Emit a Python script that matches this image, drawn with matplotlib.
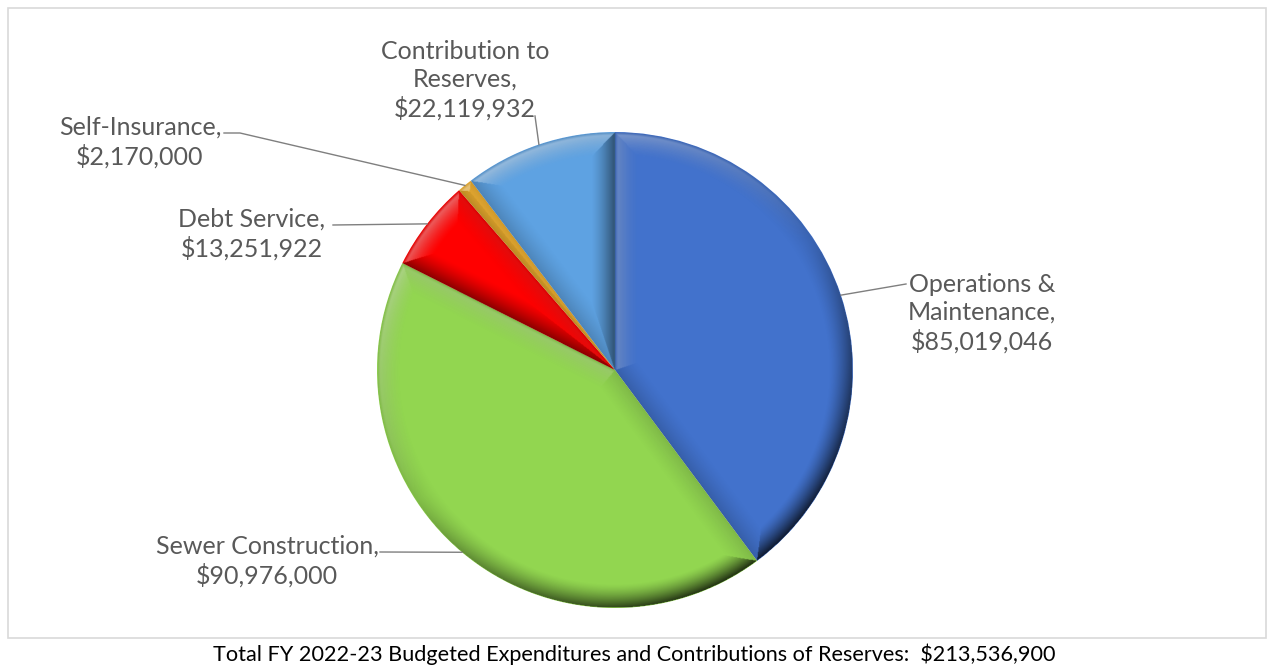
import numpy as np
import matplotlib
matplotlib.use("Agg")
import matplotlib.pyplot as plt
from matplotlib.patches import Rectangle, Circle

plt.rcParams['font.family'] = ['Lato', 'DejaVu Sans']

# Budget categories, clockwise from 12 o'clock
categories = ["Operations &\nMaintenance", "Sewer Construction", "Debt Service",
              "Self-Insurance", "Contribution to\nReserves"]
values = [85019046, 90976000, 13251922, 2170000, 22119932]
colors = ["#4272CC", "#92D650", "#FF0000", "#F2B230", "#5EA2E2"]
total_label = "Total FY 2022-23 Budgeted Expenditures and Contributions of Reserves:  $213,536,900"

W, H = 1268, 669
fig = plt.figure(figsize=(W / 100, H / 100), dpi=100)
ax = fig.add_axes([0, 0, 1, 1])

cx, cy, R = 615, H - 370, 238

wedges, _ = ax.pie(values, colors=colors, startangle=90, counterclock=False,
                   center=(cx, cy), radius=R,
                   wedgeprops=dict(edgecolor="none", linewidth=0))
ax.set_xlim(0, W)
ax.set_ylim(0, H)
ax.set_aspect('equal')
ax.axis('off')

# --- bevel shading: each slice gets a rim along its arc and radial edges,
# lit from the upper left
n = 720
xs = np.linspace(cx - R, cx + R, n)
ys = np.linspace(cy - R, cy + R, n)
X, Y = np.meshgrid(xs, ys)
DX, DY = X - cx, Y - cy
r = np.hypot(DX, DY)
a = np.degrees(np.arctan2(DY, DX)) % 360
bevel = 24.0
L = np.array([-0.55, 0.83])
L = L / np.hypot(*L)

best_d = np.full(X.shape, np.inf)
nx = np.zeros(X.shape)
ny = np.zeros(X.shape)
for w in wedges:
    t1, t2 = w.theta1, w.theta2
    ext = (t2 - t1) % 360 or 360
    d1 = (a - t1) % 360
    inside = (d1 <= ext) & (r <= R)
    d2 = ext - d1
    d_arc = R - r
    e1 = np.where(d1 < 90, r * np.sin(np.radians(d1)), r)
    e2 = np.where(d2 < 90, r * np.sin(np.radians(d2)), r)
    cand = np.stack([d_arc, e1, e2])
    k = np.argmin(cand, axis=0)
    dmin = np.min(cand, axis=0)
    t1r, t2r = np.radians(t1), np.radians(t2)
    ar = np.radians(a)
    nxx = np.choose(k, [np.cos(ar), np.full_like(ar, np.sin(t1r)), np.full_like(ar, -np.sin(t2r))])
    nyy = np.choose(k, [np.sin(ar), np.full_like(ar, -np.cos(t1r)), np.full_like(ar, np.cos(t2r))])
    best_d = np.where(inside, dmin, best_d)
    nx = np.where(inside, nxx, nx)
    ny = np.where(inside, nyy, ny)

f = np.clip(1 - best_d / bevel, 0, 1) ** 1.4
s = nx * L[0] + ny * L[1]
dark_a = np.clip(f * (0.65 * np.clip(-s, 0, 1) + 0.14), 0, 0.85)
light_a = np.clip(f * 0.45 * np.clip(s, 0, 1) * np.clip(best_d / 3, 0, 1), 0, 0.6)

dark = np.zeros(X.shape + (4,))
dark[..., 3] = dark_a
light = np.ones(X.shape + (4,))
light[..., 3] = light_a
for layer in (dark, light):
    im = ax.imshow(layer, extent=(cx - R, cx + R, cy - R, cy + R), origin='lower',
                   zorder=3, interpolation='bilinear')
    im.set_clip_path(Circle((cx, cy), R, transform=ax.transData))
ax.set_xlim(0, W)
ax.set_ylim(0, H)

# data labels with leader lines to the middle of each slice's rim
label_pos = {
    0: (982, 313),
    1: (267, 561),
    2: (252, 234),
    3: (140, 142),
    4: (465, 80),
}
line_start = {
    0: [(906, 284)],
    1: [(380, 552)],
    2: [(333, 225)],
    3: [(224, 133), (240, 133)],
    4: [(535, 116)],
}
text_color = "#595959"
for i, w in enumerate(wedges):
    mid = np.deg2rad((w.theta1 + w.theta2) / 2)
    ex, ey = cx + R * np.cos(mid), cy + R * np.sin(mid)
    pts = [(x, H - y) for x, y in line_start[i]] + [(ex, ey)]
    ax.plot([p[0] for p in pts], [p[1] for p in pts], color="#7f7f7f", lw=1, zorder=2)
    lx, ly = label_pos[i]
    txt = f"{categories[i]},\n${values[i]:,.0f}"
    ax.text(lx, H - ly, txt, ha='center', va='center', fontsize=18,
            color=text_color, linespacing=1.25, zorder=4)

# chart frame and total caption
ax.add_patch(Rectangle((8, H - 638), 1258, 630, fill=False, edgecolor="#d9d9d9", lw=1.2))
ax.text(634, H - 654, total_label, ha='center', va='center', fontsize=15.6, color="black")

fig.savefig("out.png", dpi=100)
